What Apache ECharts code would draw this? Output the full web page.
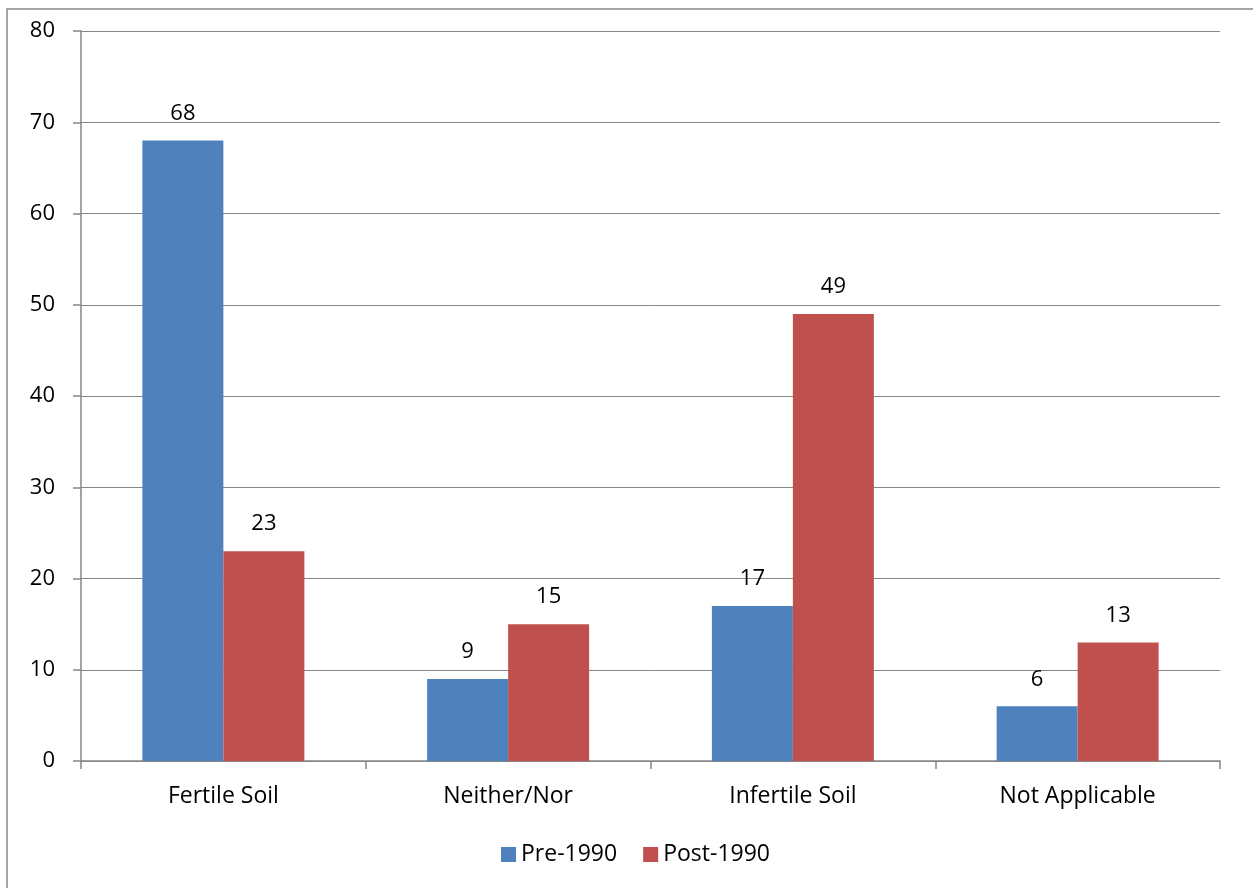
<!DOCTYPE html>
<html>
<head>
<meta charset="utf-8">
<script src="https://cdn.jsdelivr.net/npm/echarts@6/dist/echarts.min.js"></script>
<style>
  html, body { margin: 0; padding: 0; background: #fff; }
  #chart { width: 1253px; height: 888px; }
</style>
</head>
<body>
<div id="chart"></div>
<script>
// Soil perception by period
const categories = ['Fertile Soil', 'Neither/Nor', 'Infertile Soil', 'Not Applicable'];
const pre1990 = [68, 9, 17, 6];
const post1990 = [23, 15, 49, 13];
const seriesNames = ['Pre-1990', 'Post-1990'];

const font = "'Open Sans', 'Liberation Sans', sans-serif";
const chart = echarts.init(document.getElementById('chart'));

const labelStyle = {
  show: true,
  position: 'top',
  distance: 16,
  color: '#000',
  fontSize: 22,
  fontFamily: font
};

chart.setOption({
  animation: false,
  backgroundColor: '#fff',
  graphic: [{
    type: 'rect',
    shape: { x: 7, y: 9, width: 1260, height: 900 },
    style: { fill: 'none', stroke: '#888', lineWidth: 1.5 },
    silent: true
  }],
  legend: {
    left: 496,
    top: 838,
    itemWidth: 15,
    itemHeight: 15,
    itemGap: 26,
    icon: 'rect',
    textStyle: { fontSize: 23, fontFamily: font, color: '#000' },
    data: seriesNames
  },
  grid: { left: 81, right: 33, top: 31, bottom: 127 },
  xAxis: {
    type: 'category',
    data: categories,
    axisLine: { lineStyle: { color: '#868686', width: 1.5 } },
    axisTick: { show: true, length: 8, lineStyle: { color: '#868686', width: 1.5 } },
    axisLabel: { fontSize: 23, fontFamily: font, color: '#000', margin: 24 }
  },
  yAxis: {
    type: 'value',
    min: 0,
    max: 80,
    interval: 10,
    axisLine: { show: true, lineStyle: { color: '#868686', width: 1.5 } },
    axisTick: { show: true, length: 8, lineStyle: { color: '#868686', width: 1.5 } },
    splitLine: { lineStyle: { color: '#868686', width: 1 } },
    axisLabel: { fontSize: 22, fontFamily: font, color: '#000', margin: 26 }
  },
  series: [
    {
      name: seriesNames[0],
      type: 'bar',
      data: pre1990,
      barWidth: 81,
      barGap: '0%',
      itemStyle: { color: '#4F81BD' },
      label: labelStyle
    },
    {
      name: seriesNames[1],
      type: 'bar',
      data: post1990,
      barWidth: 81,
      barGap: '0%',
      itemStyle: { color: '#C0504D' },
      label: labelStyle
    }
  ]
});
</script>
</body>
</html>
